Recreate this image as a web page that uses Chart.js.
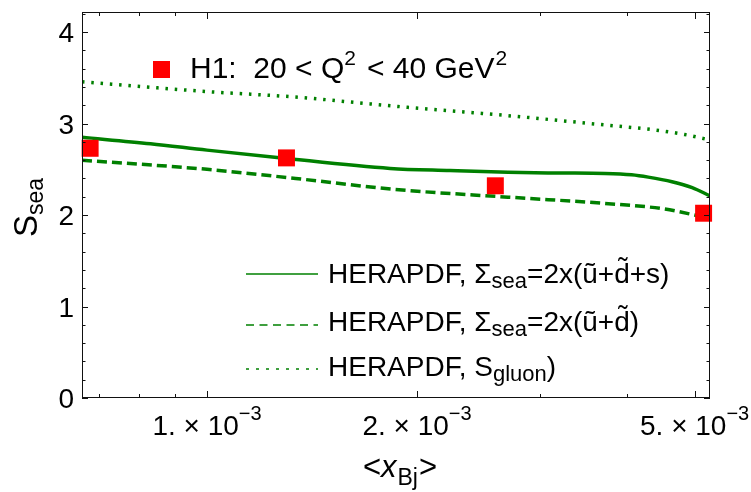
<!DOCTYPE html>
<html>
<head>
<meta charset="utf-8">
<script src="https://cdn.jsdelivr.net/npm/chart.js@4/dist/chart.umd.min.js"></script>
<style>
html, body { margin: 0; padding: 0; background: #fff; }
</style>
</head>
<body>
<canvas id="chart" width="751" height="492"></canvas>
<script>
// H1 points, 20 < Q^2 < 40 GeV^2
var h1X = [6.80e-4, 1.30e-3, 2.59e-3, 5.15e-3];
var h1Y = [2.73, 2.625, 2.32, 2.02];

// HERAPDF, sea = 2x(ubar+dbar+s)
var solidX = [6.62e-4, 8.3e-4, 1.0e-3, 1.26e-3, 1.83e-3, 2.23e-3, 2.7e-3, 3.2e-3, 3.72e-3, 4.06e-3, 4.29e-3, 4.64e-3, 4.96e-3, 5.26e-3];
var solidY = [2.85, 2.78, 2.71, 2.63, 2.51, 2.486, 2.467, 2.46, 2.455, 2.44, 2.415, 2.365, 2.30, 2.21];

// HERAPDF, sea = 2x(ubar+dbar)
var dashX = [6.62e-4, 1.0e-3, 1.34e-3, 1.86e-3, 2.7e-3, 3.72e-3, 4.49e-3, 5.0e-3, 5.15e-3];
var dashY = [2.60, 2.50, 2.40, 2.28, 2.196, 2.127, 2.07, 2.0, 1.975];

// HERAPDF, S gluon
var dotX = [6.62e-4, 1.0e-3, 1.34e-3, 1.86e-3, 2.7e-3, 3.72e-3, 4.39e-3, 4.84e-3, 5.26e-3];
var dotY = [3.457, 3.35, 3.29, 3.19, 3.087, 2.985, 2.93, 2.88, 2.82];

// axis ticks
var xMajor = [1e-3, 2e-3, 5e-3];
var xMajorLabels = ['1.', '2.', '5.'];
var xMinor = [7e-4, 8e-4, 9e-4, 3e-3, 4e-3];
var yLabels = [0, 1, 2, 3, 4];

var GREEN = 'rgb(0,128,0)';
var FONT = '"Liberation Sans", Arial, Helvetica, sans-serif';

function pts(xs, ys) {
    return xs.map(function(x, i) { return { x: x, y: ys[i] }; });
}

// draws text pieces one after another: [text, size, dy, italic, gapAfter, tildeOnTop]
function rich(ctx, x, y, parts, align) {
    var total = 0;
    parts.forEach(function(p) {
        ctx.font = (p[3] ? 'italic ' : '') + p[1] + 'px ' + FONT;
        total += ctx.measureText(p[0]).width + (p[4] || 0);
    });
    var cx = align === 'center' ? x - total / 2 : x;
    ctx.textAlign = 'left';
    ctx.textBaseline = 'alphabetic';
    parts.forEach(function(p) {
        ctx.font = (p[3] ? 'italic ' : '') + p[1] + 'px ' + FONT;
        var w = ctx.measureText(p[0]).width;
        ctx.fillText(p[0], cx, y + (p[2] || 0));
        if (p[5]) {
            // tilde above a tall letter
            ctx.textAlign = 'center';
            ctx.fillText('\u02dc', cx + w / 2 + 1, y + (p[2] || 0) - p[1] * 0.21);
            ctx.textAlign = 'left';
        }
        cx += w + (p[4] || 0);
    });
}

var decor = {
    id: 'decor',
    afterDraw: function(chart) {
        var ctx = chart.ctx;
        var a = chart.chartArea;
        var xs = chart.scales.x, ys = chart.scales.y;
        ctx.save();
        ctx.strokeStyle = '#111';
        ctx.fillStyle = '#000';
        ctx.lineWidth = 1;

        // frame
        ctx.strokeRect(a.left + 0.5, a.top + 0.5, a.right - a.left - 1, a.bottom - a.top - 1);

        // x ticks, inward on bottom and top
        function xTick(v, len) {
            var px = Math.round(xs.getPixelForValue(v)) + 0.5;
            ctx.beginPath();
            ctx.moveTo(px, a.bottom); ctx.lineTo(px, a.bottom - len);
            ctx.moveTo(px, a.top); ctx.lineTo(px, a.top + len);
            ctx.stroke();
        }
        xMajor.forEach(function(v) { xTick(v, 7); });
        xMinor.forEach(function(v) { xTick(v, 4); });

        // y ticks every 0.2, inward on left and right
        for (var i = 0; i <= 21; i++) {
            var v = i * 0.2;
            var py = Math.round(ys.getPixelForValue(v)) + 0.5;
            var len = (i % 5 === 0) ? 6 : 3.5;
            ctx.beginPath();
            ctx.moveTo(a.left, py); ctx.lineTo(a.left + len, py);
            ctx.moveTo(a.right, py); ctx.lineTo(a.right - len, py);
            ctx.stroke();
        }

        // y tick labels
        ctx.font = '28px ' + FONT;
        ctx.textAlign = 'right';
        ctx.textBaseline = 'alphabetic';
        yLabels.forEach(function(v) {
            ctx.fillText(String(v), a.left - 8, ys.getPixelForValue(v) + 10);
        });

        // x tick labels
        xMajor.forEach(function(v, i) {
            rich(ctx, xs.getPixelForValue(v), 435, [
                [xMajorLabels[i] + ' \u00d7 10', 28, 0],
                ['\u22123', 20, -15]
            ], 'center');
        });

        // axis titles
        rich(ctx, 400, 477, [
            ['<', 31, 0],
            ['x', 31, 0, true, 1],
            ['Bj', 23, 8, false, 1],
            ['>', 31, 0]
        ], 'center');

        ctx.save();
        ctx.translate(37, 237);
        ctx.rotate(-Math.PI / 2);
        rich(ctx, 0, 0, [['S', 33, 0], ['sea', 23, 6]], 'left');
        ctx.restore();

        // H1 legend
        ctx.fillStyle = '#ff0000';
        ctx.fillRect(153, 61, 17, 17);
        ctx.fillStyle = '#000';
        rich(ctx, 190, 78, [
            ['H1:  20 < Q', 30, 0],
            ['2', 21, -13, false, 11],
            ['< 40 GeV', 30, 0, false, 1],
            ['2', 21, -13]
        ], 'left');

        // curve legend
        var rows = [
            { y: 274, dash: [], parts: [['HERAPDF, \u03a3', 28, 0], ['sea', 22, 5], ['=2x(\u0169+', 28, 0], ['d', 28, 0, false, 0, true], ['+s)', 28, 0]] },
            { y: 325, dash: [8, 5.5], parts: [['HERAPDF, \u03a3', 28, 0], ['sea', 22, 5], ['=2x(\u0169+', 28, 0], ['d', 28, 0, false, 0, true], [')', 28, 0]] },
            { y: 369, dash: [3, 7], parts: [['HERAPDF, S', 28, 0], ['gluon', 22, 5], [')', 28, 0]] }
        ];
        var base = [283, 331, 376];
        rows.forEach(function(r, i) {
            ctx.strokeStyle = GREEN;
            ctx.lineWidth = 1.5;
            ctx.setLineDash(r.dash);
            ctx.beginPath();
            ctx.moveTo(246, r.y); ctx.lineTo(318, r.y);
            ctx.stroke();
            ctx.setLineDash([]);
            ctx.fillStyle = '#000';
            rich(ctx, 328, base[i], r.parts, 'left');
        });
        ctx.restore();
    }
};

new Chart(document.getElementById('chart'), {
    type: 'scatter',
    data: {
        datasets: [{
            label: 'H1',
            data: pts(h1X, h1Y),
            pointStyle: 'rect',
            pointRadius: 12,
            backgroundColor: '#ff0000',
            borderWidth: 0,
            showLine: false,
            clip: false,
            order: 0
        }, {
            label: 'HERAPDF sea 2x(u+d+s)',
            data: pts(solidX, solidY),
            showLine: true,
            borderColor: GREEN,
            borderWidth: 3.5,
            pointRadius: 0,
            cubicInterpolationMode: 'monotone',
            order: 1
        }, {
            label: 'HERAPDF sea 2x(u+d)',
            data: pts(dashX, dashY),
            showLine: true,
            borderColor: GREEN,
            borderWidth: 3.5,
            borderDash: [10, 5],
            pointRadius: 0,
            cubicInterpolationMode: 'monotone',
            order: 2
        }, {
            label: 'HERAPDF S gluon',
            data: pts(dotX, dotY),
            showLine: true,
            borderColor: GREEN,
            borderWidth: 3.5,
            borderDash: [2.5, 6.8],
            pointRadius: 0,
            cubicInterpolationMode: 'monotone',
            order: 3
        }]
    },
    options: {
        responsive: false,
        animation: false,
        devicePixelRatio: 1,
        events: [],
        layout: { padding: { left: 82, right: 41, top: 10, bottom: 94 } },
        plugins: { legend: { display: false }, tooltip: { enabled: false } },
        scales: {
            x: { type: 'logarithmic', min: 6.62e-4, max: 5.26e-3, display: false },
            y: { type: 'linear', min: 0, max: 4.22, display: false }
        }
    },
    plugins: [decor]
});
</script>
</body>
</html>
